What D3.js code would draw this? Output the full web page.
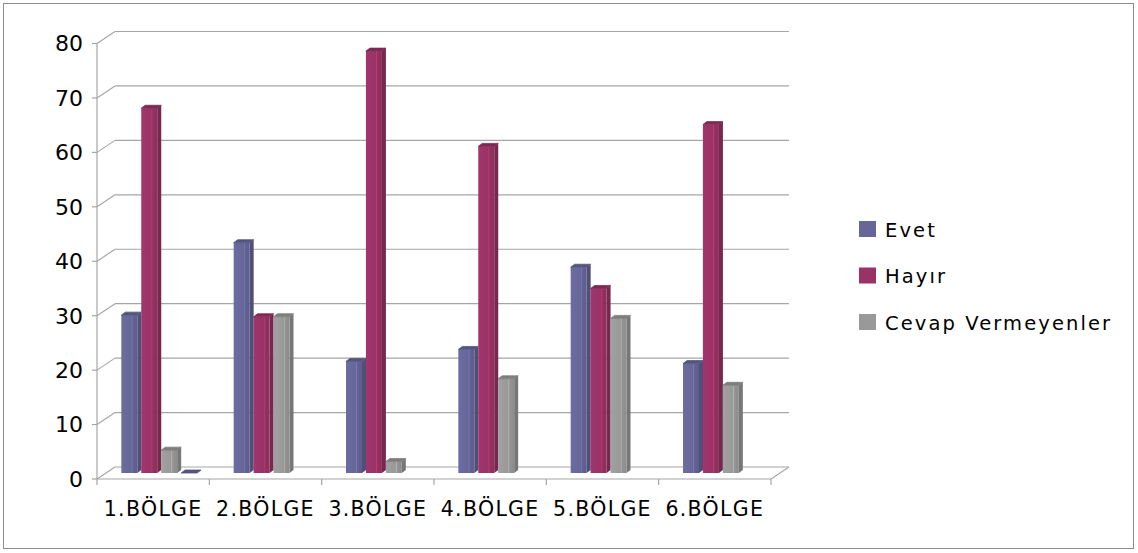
<!DOCTYPE html>
<html>
<head>
<meta charset="utf-8">
<script src="https://cdn.jsdelivr.net/npm/d3@7"></script>
<style>
  body { margin: 0; background: #fff; }
  svg text { font-family: "DejaVu Sans", Verdana, sans-serif; fill: #000; }
</style>
</head>
<body>
<svg id="chart" width="1138" height="553"></svg>
<script>
// --- data ---
const categories = ["1.BÖLGE", "2.BÖLGE", "3.BÖLGE", "4.BÖLGE", "5.BÖLGE", "6.BÖLGE"];
const seriesNames = ["Evet", "Hayır", "Cevap Vermeyenler"];
const evet = [29, 42.3, 20.5, 22.7, 37.8, 20.1];
const hayir = [67, 28.7, 77.5, 60, 33.9, 64];
const cevap = [4.2, 28.7, 2.1, 17.3, 28.4, 16.1];
const unnamed = [0, null, null, null, null, null]; // empty 4th series, only a flat cap in group 1
const yTicks = [0, 10, 20, 30, 40, 50, 60, 70, 80];
const colors = ["#666699", "#993366", "#999999", "#666699"];

const svg = d3.select("#chart");

// outer frame
svg.append("rect")
    .attr("x", 3.5).attr("y", 3.5)
    .attr("width", 1130).attr("height", 545)
    .attr("fill", "#fff").attr("stroke", "#8c8c8c").attr("stroke-width", 1);

// --- scales ---
const wallDx = 18, wallDy = -12;   // depth of the 3d box
const barDx = 8, barDy = -6;       // bars sit inside the box
const capDx = 4, capDy = -3;       // depth of each bar

const x = d3.scaleBand().domain(categories).range([97, 771]);
const y = d3.scaleLinear().domain([0, 80]).range([479, 43.5]);
const allSeries = [evet, hayir, cevap, unnamed];
const xs = d3.scaleBand().domain(d3.range(allSeries.length))
    .range([0, x.bandwidth()]).paddingInner(0).paddingOuter(0.82);

const grid = svg.append("g")
    .attr("fill", "none").attr("stroke", "#a6a6a6").attr("stroke-width", 1.2);

// back wall gridlines + side diagonals + ticks
yTicks.forEach(t => {
    const yy = y(t);
    grid.append("line")
        .attr("x1", 97 + wallDx).attr("x2", 771 + wallDx)
        .attr("y1", yy + wallDy).attr("y2", yy + wallDy);
    grid.append("line")
        .attr("x1", 97).attr("y1", yy)
        .attr("x2", 97 + wallDx).attr("y2", yy + wallDy);
    grid.append("line")
        .attr("x1", 92).attr("x2", 97).attr("y1", yy).attr("y2", yy);
});
// left axis line
grid.append("line").attr("x1", 97).attr("x2", 97).attr("y1", y(80)).attr("y2", y(0));
// floor front edge and right diagonal
grid.append("line").attr("x1", 97).attr("x2", 771).attr("y1", y(0)).attr("y2", y(0));
grid.append("line").attr("x1", 771).attr("y1", y(0))
    .attr("x2", 771 + wallDx).attr("y2", y(0) + wallDy);
// category ticks
d3.range(categories.length + 1).forEach(i => {
    const xx = 97 + i * x.step();
    grid.append("line").attr("x1", xx).attr("x2", xx).attr("y1", y(0)).attr("y2", y(0) + 6);
});

// y labels
svg.append("g").selectAll("text")
    .data(yTicks).join("text")
    .attr("x", 83).attr("y", d => y(d))
    .attr("dy", "0.36em")
    .attr("text-anchor", "end")
    .attr("font-size", 22)
    .text(d => d);

// category labels
svg.append("g").selectAll("text")
    .data(categories).join("text")
    .attr("x", d => x(d) + x.bandwidth() / 2)
    .attr("y", 516)
    .attr("text-anchor", "middle")
    .attr("font-size", 20.5)
    .attr("letter-spacing", 1.3)
    .text(d => d);

// gradients for the front faces
const defs = svg.append("defs");
colors.forEach((c, i) => {
    const base = d3.color(c);
    const g = defs.append("linearGradient").attr("id", "grad" + i)
        .attr("x1", 0).attr("x2", 1).attr("y1", 0).attr("y2", 0);
    g.append("stop").attr("offset", 0).attr("stop-color", base.brighter(0.15));
    g.append("stop").attr("offset", 0.62).attr("stop-color", base);
    g.append("stop").attr("offset", 0.66).attr("stop-color", base.brighter(0.5));
    g.append("stop").attr("offset", 0.72).attr("stop-color", base.darker(0.1));
    g.append("stop").attr("offset", 1).attr("stop-color", base.darker(0.25));
});

// bars
const frontW = 16;
const barData = [];
allSeries.forEach((vals, s) => {
    vals.forEach((v, i) => {
        if (v === null) return;
        barData.push({ s, cat: categories[i], v });
    });
});

const bars = svg.append("g").selectAll("g")
    .data(barData).join("g");

bars.each(function(d) {
    const g = d3.select(this);
    const x0 = x(d.cat) + xs(d.s) + barDx;
    const x1 = x0 + frontW;
    const yb = y(0) + barDy;
    const yt = y(d.v) + barDy;
    const c = d3.color(colors[d.s]);
    if (d.v > 0) {
        // side
        g.append("path")
            .attr("d", `M${x1},${yt} L${x1 + capDx},${yt + capDy} L${x1 + capDx},${yb + capDy} L${x1},${yb} Z`)
            .attr("fill", c.darker(0.7));
        // front
        g.append("rect")
            .attr("x", x0).attr("y", yt)
            .attr("width", frontW).attr("height", yb - yt)
            .attr("fill", `url(#grad${d.s})`);
    }
    // top cap
    g.append("path")
        .attr("d", `M${x0},${yt} L${x0 + capDx},${yt + capDy} L${x1 + capDx},${yt + capDy} L${x1},${yt} Z`)
        .attr("fill", c.darker(0.55))
        .attr("stroke", c.darker(0.55)).attr("stroke-width", 0.8)
        .attr("stroke-linejoin", "round");
});

// legend
const legend = svg.append("g").selectAll("g")
    .data(seriesNames).join("g")
    .attr("transform", (d, i) => `translate(859, ${221 + i * 46.5})`);
legend.append("rect")
    .attr("width", 17).attr("height", 16)
    .attr("fill", (d, i) => colors[i]);
legend.append("text")
    .attr("x", 26).attr("y", 15.5)
    .attr("font-size", 19.5)
    .attr("letter-spacing", 2.1)
    .text(d => d);
</script>
</body>
</html>
